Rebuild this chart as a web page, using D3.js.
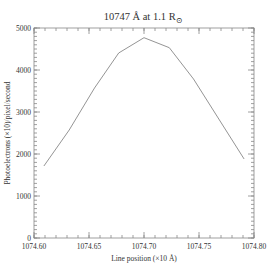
<!DOCTYPE html>
<html>
<head>
<meta charset="utf-8">
<script src="https://cdn.jsdelivr.net/npm/d3@7"></script>
<style>
  body { margin: 0; background: #fff; }
  text { font-family: "Liberation Serif", "DejaVu Serif", serif; fill: #333; }
</style>
</head>
<body>
<svg width="274" height="274"></svg>
<script>
var positions = [1074.609, 1074.632, 1074.655, 1074.677, 1074.700, 1074.723, 1074.745, 1074.768, 1074.791];
var counts = [1714, 2571, 3571, 4405, 4769, 4531, 3786, 2833, 1881];
var xTicks = [1074.60, 1074.65, 1074.70, 1074.75, 1074.80];
var yTicks = [0, 1000, 2000, 3000, 4000, 5000];

var width = 274, height = 274;
var margin = { top: 28, right: 20, bottom: 36, left: 34 };

var svg = d3.select('svg');

var xScale = d3.scaleLinear()
  .domain([1074.60, 1074.80])
  .range([margin.left, width - margin.right]);

var yScale = d3.scaleLinear()
  .domain([0, 5000])
  .range([height - margin.bottom, margin.top]);

var axisColor = '#888';

// frame
svg.append('rect')
  .attr('x', margin.left)
  .attr('y', margin.top)
  .attr('width', width - margin.left - margin.right)
  .attr('height', height - margin.top - margin.bottom)
  .attr('fill', 'none')
  .attr('stroke', axisColor)
  .attr('stroke-width', 0.8);

// minor ticks, inward on all four sides
var xMinor = d3.range(0, 21).map(i => 1074.60 + i * 0.01);
var yMinor = d3.range(0, 51).map(i => i * 100);

function tickLines(vals, isX, len, side) {
  svg.append('g').selectAll('line')
    .data(vals)
    .enter().append('line')
    .attr('x1', d => isX ? xScale(d) : (side ? xScale.range()[1] : xScale.range()[0]))
    .attr('x2', d => isX ? xScale(d) : (side ? xScale.range()[1] - len : xScale.range()[0] + len))
    .attr('y1', d => isX ? (side ? yScale.range()[1] : yScale.range()[0]) : yScale(d))
    .attr('y2', d => isX ? (side ? yScale.range()[1] + len : yScale.range()[0] - len) : yScale(d))
    .attr('stroke', axisColor)
    .attr('stroke-width', 0.8);
}
tickLines(xMinor, true, 3, false);
tickLines(xMinor, true, 3, true);
tickLines(yMinor, false, 3, false);
tickLines(yMinor, false, 3, true);
tickLines(xTicks, true, 6, false);
tickLines(xTicks, true, 6, true);
tickLines(yTicks, false, 6, false);
tickLines(yTicks, false, 6, true);

// tick labels
svg.append('g').selectAll('text')
  .data(xTicks)
  .enter().append('text')
  .attr('x', d => xScale(d))
  .attr('y', yScale(0) + 11)
  .attr('text-anchor', 'middle')
  .attr('font-size', 7.5)
  .text(d => d.toFixed(2));

svg.append('g').selectAll('text')
  .data(yTicks)
  .enter().append('text')
  .attr('x', margin.left - 3)
  .attr('y', d => yScale(d) + 2.5)
  .attr('text-anchor', 'end')
  .attr('font-size', 7.5)
  .text(d => d);

// line
var line = d3.line()
  .x((d, i) => xScale(positions[i]))
  .y(d => yScale(d));

svg.append('path')
  .datum(counts)
  .attr('d', line)
  .attr('fill', 'none')
  .attr('stroke', '#888')
  .attr('stroke-width', 0.9);

// title
var title = svg.append('text')
  .attr('x', 143)
  .attr('y', 20)
  .attr('text-anchor', 'middle')
  .attr('font-size', 10.5);
title.append('tspan').text('10747 \u00C5  at 1.1 R');
title.append('tspan').attr('dy', 2.5).attr('font-size', 8).text('\u2299');

// axis labels
svg.append('text')
  .attr('x', xScale(1074.70))
  .attr('y', 261)
  .attr('text-anchor', 'middle')
  .attr('font-size', 7.5)
  .text('Line position (\u00D710 \u00C5)');

svg.append('text')
  .attr('transform', 'translate(' + [10, (yScale(0) + yScale(5000)) / 2] + ') rotate(-90)')
  .attr('text-anchor', 'middle')
  .attr('font-size', 7.5)
  .text('Photoelectrons (\u00D710)/pixel/second');
</script>
</body>
</html>
